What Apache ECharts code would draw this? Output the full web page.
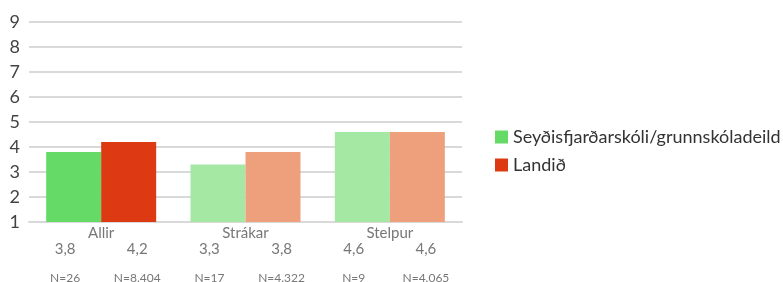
<!DOCTYPE html>
<html>
<head>
<meta charset="utf-8">
<script src="https://cdn.jsdelivr.net/npm/echarts@6/dist/echarts.min.js"></script>
<style>
  html, body { margin: 0; padding: 0; background: #fff; }
  #chart { width: 783px; height: 282px; }
</style>
</head>
<body>
<div id="chart"></div>
<script>
const categories = ['Allir', 'Strákar', 'Stelpur']
const seriesNames = ['Seyðisfjarðarskóli/grunnskóladeild', 'Landið']
const schoolValues = [3.8, 3.3, 4.6]
const nationValues = [4.2, 3.8, 4.6]
const schoolN = ['26', '17', '9']
const nationN = ['8.404', '4.322', '4.065']

const fullColors = ['#66da66', '#dd3a13']
const fadedColors = ['#a4e8a4', '#eea07c']

// per-bar labels under the axis: value + N, one slot per bar
const subLabels = []
categories.forEach((c, i) => {
  subLabels.push(schoolValues[i].toFixed(1).replace('.', ',') + '\n{n|N=' + schoolN[i] + '}')
  subLabels.push(nationValues[i].toFixed(1).replace('.', ',') + '\n{n|N=' + nationN[i] + '}')
})

function barData(values, s) {
  return values.map((v, i) => ({
    value: v,
    itemStyle: { color: i === 0 ? fullColors[s] : fadedColors[s] }
  }))
}

const chart = echarts.init(document.getElementById('chart'))
chart.setOption({
  animation: false,
  textStyle: { fontFamily: 'Lato' },
  grid: { left: 29, right: 321, top: 22, bottom: 60, outerBoundsMode: 'none', containLabel: false },
  legend: {
    orient: 'vertical',
    left: 490,
    top: 123,
    icon: 'rect',
    itemWidth: 13,
    itemHeight: 13,
    itemGap: 10,
    textStyle: { fontSize: 18, color: '#333', fontFamily: 'Lato' },
    data: seriesNames
  },
  xAxis: [
    {
      type: 'category',
      data: categories,
      axisLine: { lineStyle: { color: '#d9d9d9', width: 2 } },
      axisTick: { show: false },
      axisLabel: { fontSize: 15, color: '#777', margin: 4 }
    },
    {
      type: 'category',
      data: subLabels,
      position: 'bottom',
      offset: 6,
      axisLine: { show: false },
      axisTick: { show: false },
      axisLabel: {
        interval: 0,
        margin: 8,
        fontSize: 15,
        color: '#777',
        lineHeight: 27,
        rich: { n: { fontSize: 12, color: '#777', lineHeight: 31 } }
      }
    }
  ],
  yAxis: {
    type: 'value',
    min: 1,
    max: 9,
    interval: 1,
    axisLine: { show: false },
    axisTick: { show: false },
    axisLabel: { fontSize: 18, color: '#444', margin: 9 },
    splitLine: { lineStyle: { color: '#d9d9d9', width: 2 } }
  },
  series: [
    {
      name: seriesNames[0],
      type: 'bar',
      color: fullColors[0],
      barWidth: 55,
      barGap: '0%',
      data: barData(schoolValues, 0)
    },
    {
      name: seriesNames[1],
      type: 'bar',
      color: fullColors[1],
      barWidth: 55,
      barGap: '0%',
      data: barData(nationValues, 1)
    }
  ]
})
</script>
</body>
</html>
